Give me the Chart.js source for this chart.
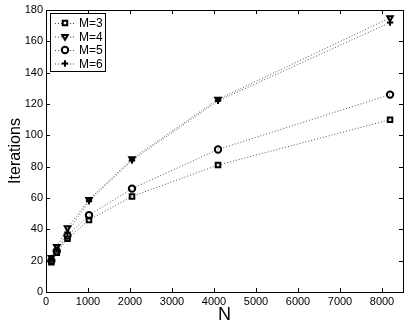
<!DOCTYPE html>
<html>
<head>
<meta charset="utf-8">
<script src="https://cdn.jsdelivr.net/npm/chart.js@4"></script>
<style>
  html, body { margin: 0; padding: 0; background: #fff; }
  #wrap { width: 409px; height: 326px; }
</style>
</head>
<body>
<div id="wrap"><canvas id="iter-chart" width="409" height="326"></canvas></div>
<script>
let sizesN = [128, 256, 512, 1024, 2048, 4096, 8192];
let iterM3 = [19, 25, 34, 46, 61, 81, 110];
let iterM4 = [22, 29, 41, 59, 85, 123, 175];
let iterM5 = [20, 26, 36, 49, 66, 91, 126];
let iterM6 = [20, 27, 38, 58, 84, 122, 172];
let xTicks = [0, 1000, 2000, 3000, 4000, 5000, 6000, 7000, 8000];
let seriesLabels = ["M=3", "M=4", "M=5", "M=6"];
let markerStyles = ["rect", "triangle", "circle", "cross"];
let markerRot = [0, 180, 0, 0];

const FONT = "'Liberation Sans', Arial, sans-serif";

function toPoints(ys) {
  return sizesN.map((n, i) => ({ x: n, y: ys[i] }));
}

//inner tick marks, box and legend, MATLAB style
const axesBox = {
  id: "axesBox",
  afterDraw(chart) {
    const { ctx, chartArea: a, scales } = chart;
    ctx.save();
    ctx.strokeStyle = "#000";
    ctx.lineWidth = 1;
    ctx.strokeRect(a.left + 0.5, a.top + 0.5, a.right - a.left, a.bottom - a.top);
    ctx.beginPath();
    scales.x.ticks.forEach((t) => {
      let px = Math.round(scales.x.getPixelForValue(t.value)) + 0.5;
      ctx.moveTo(px, a.bottom); ctx.lineTo(px, a.bottom - 4);
      ctx.moveTo(px, a.top); ctx.lineTo(px, a.top + 4);
    });
    scales.y.ticks.forEach((t) => {
      let py = Math.round(scales.y.getPixelForValue(t.value)) + 0.5;
      ctx.moveTo(a.left, py); ctx.lineTo(a.left + 4, py);
      ctx.moveTo(a.right, py); ctx.lineTo(a.right - 4, py);
    });
    ctx.stroke();

    //legend box
    let lx = a.left + 4, ly = a.top + 3, lw = 55, lh = 58;
    ctx.fillStyle = "#fff";
    ctx.fillRect(lx, ly, lw, lh);
    ctx.strokeRect(lx + 0.5, ly + 0.5, lw, lh);
    chart.data.datasets.forEach((ds, i) => {
      let cy = ly + 10 + i * 13.5;
      ctx.save();
      ctx.setLineDash([1, 2]);
      ctx.strokeStyle = "#444";
      ctx.beginPath();
      ctx.moveTo(lx + 5, cy + 0.5); ctx.lineTo(lx + 25, cy + 0.5);
      ctx.stroke();
      ctx.restore();
      ctx.fillStyle = "#fff";
      ctx.strokeStyle = "#000";
      ctx.lineWidth = 2;
      Chart.helpers.drawPoint(ctx, {
        pointStyle: ds.pointStyle, rotation: ds.pointRotation,
        radius: 3.2, borderWidth: 2
      }, lx + 15, cy);
      ctx.lineWidth = 1;
      ctx.fillStyle = "#000";
      ctx.font = "12px " + FONT;
      ctx.textBaseline = "middle";
      ctx.fillText(ds.label, lx + 29, cy + 1);
    });
    ctx.restore();
  },
};

const ctx = document.getElementById("iter-chart").getContext("2d");
const allSeries = [iterM3, iterM4, iterM5, iterM6];
const iterChart = new Chart(ctx, {
  type: "line",
  data: {
    datasets: allSeries.map((ys, i) => ({
      label: seriesLabels[i],
      data: toPoints(ys),
      borderColor: "#555",
      borderWidth: 1,
      borderDash: [1, 2],
      pointStyle: markerStyles[i],
      pointRotation: markerRot[i],
      pointRadius: 3.2,
      pointBorderWidth: 2,
      pointBorderColor: "#000",
      pointBackgroundColor: "rgba(0,0,0,0)",
      fill: false,
      tension: 0,
    })),
  },
  options: {
    responsive: false,
    animation: false,
    layout: { padding: { top: 10, right: 4, left: 0, bottom: 0 } },
    plugins: {
      legend: { display: false },
      tooltip: { enabled: false },
    },
    scales: {
      x: {
        type: "linear",
        min: 0,
        max: 8500,
        afterBuildTicks: (s) => {
          s.ticks = xTicks.map((v) => ({ value: v }));
        },
        afterFit: (s) => { s.height = 34; },
        grid: { display: false, drawTicks: false },
        border: { display: false },
        ticks: {
          color: "#000",
          padding: 3,
          maxRotation: 0,
          autoSkip: false,
          font: { family: FONT, size: 11 },
          callback: (v) => String(v),
        },
        title: {
          display: true,
          text: "N",
          color: "#000",
          padding: { top: -2, bottom: 0 },
          font: { family: FONT, size: 18 },
        },
      },
      y: {
        min: 0,
        max: 180,
        afterFit: (s) => { s.width = 46; },
        grid: { display: false, drawTicks: false },
        border: { display: false },
        ticks: {
          stepSize: 20,
          color: "#000",
          padding: 3,
          font: { family: FONT, size: 11 },
        },
        title: {
          display: true,
          text: "Iterations",
          color: "#000",
          padding: { top: 6, bottom: 0 },
          font: { family: FONT, size: 16 },
        },
      },
    },
  },
  plugins: [axesBox],
});
</script>
</body>
</html>
